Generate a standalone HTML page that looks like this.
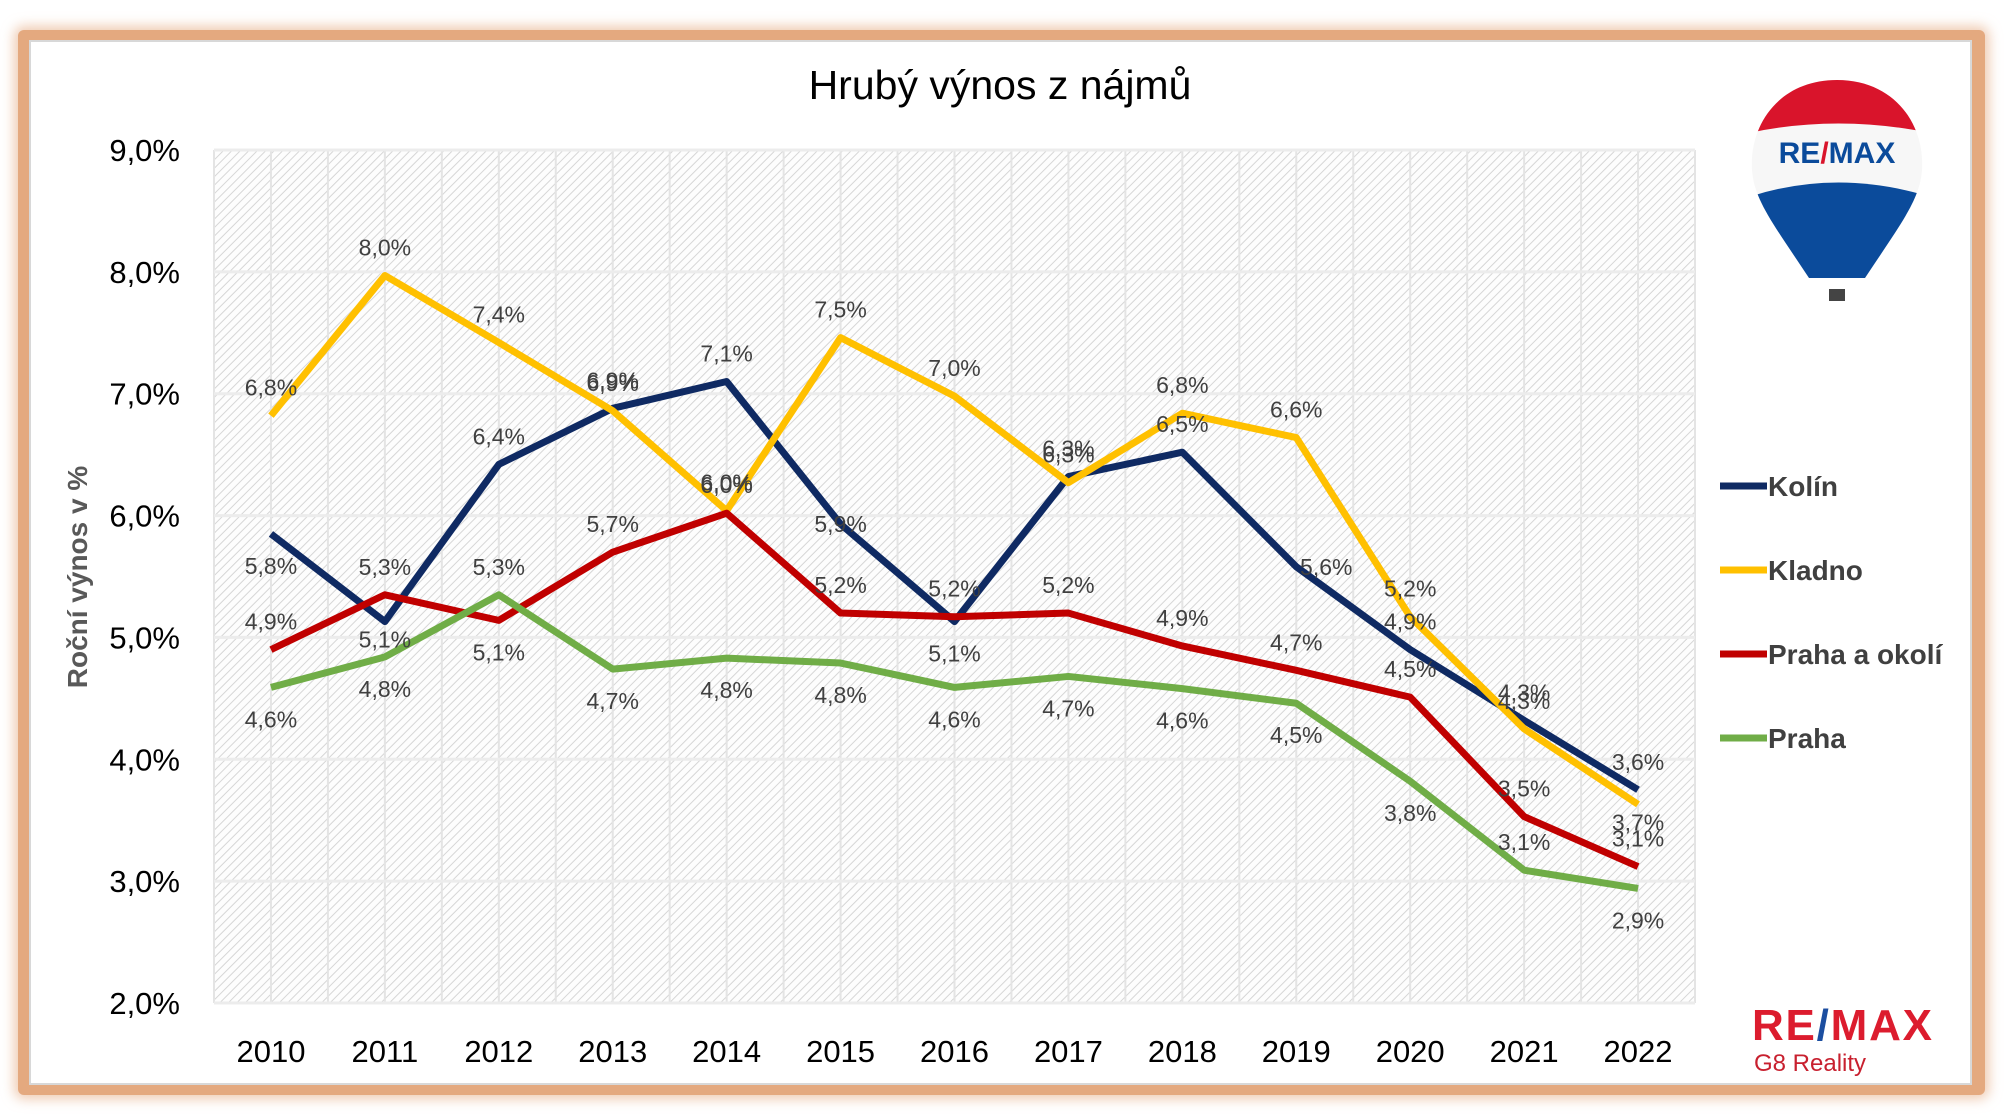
<!DOCTYPE html>
<html><head><meta charset="utf-8">
<style>
html,body{margin:0;padding:0;background:#fff;}
body{width:2010px;height:1114px;position:relative;overflow:hidden;font-family:"Liberation Sans",sans-serif;}
</style></head>
<body>
<div style="position:absolute;left:18px;top:30px;width:1967px;height:1065px;background:#e4a97f;box-shadow:0 0 12px 4px rgba(228,169,127,0.6);border-radius:6px;"></div>
<div style="position:absolute;left:29px;top:40px;width:1943px;height:1045px;background:#fff;border:2px solid #d8d8d8;box-sizing:border-box;"></div>
<svg id="chart" width="2010" height="1114" style="position:absolute;left:0;top:0">
<defs>
<pattern id="hatch" width="6" height="6" patternUnits="userSpaceOnUse" patternTransform="rotate(45)">
<rect width="6" height="6" fill="#fdfdfd"/><line x1="0" y1="0" x2="0" y2="6" stroke="#d6d6d6" stroke-width="2"/>
</pattern>
<clipPath id="balloonClip"><path d="M1837,80 C1895,80 1925,125 1922,170 C1920,200 1900,225 1865,278 L1809,278 C1774,225 1754,200 1752,170 C1749,125 1779,80 1837,80Z"/></clipPath>
</defs>
<text x="1000" y="99" text-anchor="middle" font-size="41" fill="#000">Hrubý výnos z nájmů</text>
<text transform="translate(87,577) rotate(-90)" text-anchor="middle" font-size="28" font-weight="bold" fill="#595959">Roční výnos v %</text>
<g id="plot"></g>
<g id="legend"></g>
<g>
<g clip-path="url(#balloonClip)">
<rect x="1740" y="70" width="200" height="220" fill="#f7f7f7"/>
<path d="M1740,70 L1940,70 L1940,135 Q1837,112 1740,135Z" fill="#d9142b"/>
<path d="M1740,200 Q1837,165 1940,200 L1940,290 L1740,290Z" fill="#0b4b9b"/>
</g>
<rect x="1829" y="289" width="16" height="12" fill="#444"/>
<text x="1837" y="163" text-anchor="middle" font-size="30" font-weight="bold" fill="#0b4b9b">RE<tspan fill="#d9142b">/</tspan>MAX</text>
</g>
<g>
<text x="1752" y="1040" font-size="44" font-weight="bold" fill="#dc1c2e" textLength="180">RE<tspan fill="#1c4ea0">/</tspan>MAX</text>
<text x="1754" y="1071" font-size="24" fill="#c8202f">G8 Reality</text>
</g>
</svg>
<script>
const categories=["2010","2011","2012","2013","2014","2015","2016","2017","2018","2019","2020","2021","2022"];
const yTicks=[2,3,4,5,6,7,8,9];
const seriesNames=["Kolín","Kladno","Praha a okolí","Praha"];
const kolin=[5.85,5.13,6.42,6.88,7.1,5.93,5.13,6.32,6.52,5.58,4.9,4.32,3.75];
const kladno=[6.82,7.97,7.42,6.86,6.04,7.46,6.98,6.27,6.84,6.64,5.17,4.25,3.63];
const prahaOkoli=[4.9,5.35,5.14,5.7,6.02,5.2,5.17,5.2,4.93,4.73,4.51,3.53,3.12];
const praha=[4.59,4.84,5.35,4.74,4.83,4.79,4.59,4.68,4.58,4.46,3.82,3.09,2.94];
const kolinLabels=["5,8%","5,1%","6,4%","6,9%","7,1%","5,9%","5,1%","6,3%","6,5%","5,6%","4,9%","4,3%","3,6%"];
const kladnoLabels=["6,8%","8,0%","7,4%","6,9%","6,0%","7,5%","7,0%","6,3%","6,8%","6,6%","5,2%","4,3%","3,7%"];
const prahaOkoliLabels=["4,9%","5,3%","5,1%","5,7%","6,0%","5,2%","5,2%","5,2%","4,9%","4,7%","4,5%","3,5%","3,1%"];
const prahaLabels=["4,6%","4,8%","5,3%","4,7%","4,8%","4,8%","4,6%","4,7%","4,6%","4,5%","3,8%","3,1%","2,9%"];
const kolinLabelPos=["b","m","a","a","a","c","b","a","a","r","a","a","a"];
const kladnoLabelPos=["a","a","a","a","a","a","a","a","a","a","a","a","m"];
const prahaOkoliLabelPos=["a","a","b","a","a","a","a","a","a","a","a","a","a"];
const prahaLabelPos=["b","b","a","b","b","b","b","b","b","b","b","a","b"];
const colors=["#0f2a63","#ffc000","#c00000","#70ad47"];
const allSeries=[kolin,kladno,prahaOkoli,praha];
const allLabels=[kolinLabels,kladnoLabels,prahaOkoliLabels,prahaLabels];
const allPos=[kolinLabelPos,kladnoLabelPos,prahaOkoliLabelPos,prahaLabelPos];
const NS="http://www.w3.org/2000/svg";
const L=214,R=1695,T=150,B=1003;
const step=(R-L)/categories.length;
function xS(i){return L+step*(i+0.5);}
function yS(v){return B-(v-2)/(9-2)*(B-T);}
function mk(tag,attrs,parent){const e=document.createElementNS(NS,tag);for(const k in attrs)e.setAttribute(k,attrs[k]);parent.appendChild(e);return e;}
const plot=document.getElementById('plot');
const bg=mk('rect',{x:L,y:T,width:R-L,height:B-T,fill:'url(#hatch)'},plot);


for(let i=0;i<=categories.length*2;i++){
  const x=L+step/2*i;
  const g=mk('line',{x1:x,x2:x,y1:T,y2:B,stroke:'#e4e4e4','stroke-width':2},plot);
  
  
}
yTicks.forEach(t=>{
  const y=yS(t);
  const g=mk('line',{x1:L,x2:R,y1:y,y2:y,stroke:'#ececec','stroke-width':3},plot);
  
  
  const tx=mk('text',{x:180,y:y+11,'text-anchor':'end','font-size':31,fill:'#000'},plot);
  tx.textContent=t.toFixed(1).replace('.',',')+'%';
  
  
});
categories.forEach((c,i)=>{
  const tx=mk('text',{x:xS(i),y:1062,'text-anchor':'middle','font-size':31,fill:'#000'},plot);
  tx.textContent=c;
  
  
});
allSeries.forEach((s,si)=>{
  const pts=s.map((v,i)=>xS(i)+','+yS(v)).join(' ');
  const pl=mk('polyline',{points:pts,fill:'none',stroke:colors[si],'stroke-width':7,'stroke-linejoin':'round'},plot);
  
  
});
allSeries.forEach((s,si)=>{
  s.forEach((v,i)=>{
    const p=allPos[si][i];
    let x=xS(i),y=yS(v);
    if(p==='a')y-=20;else if(p==='b')y+=40;else if(p==='m')y+=26;else if(p==='r'){x+=30;y+=8;}else y+=8;
    const tx=mk('text',{x:x,y:y,'text-anchor':'middle','font-size':23,fill:'#404040'},plot);
    tx.textContent=allLabels[si][i];
    
    
  });
});
const lg=document.getElementById('legend');
seriesNames.forEach((n,i)=>{
  const y=486+i*84;
  const ln=mk('line',{x1:1720,x2:1767,y1:y,y2:y,stroke:colors[i],'stroke-width':7},lg);
  
  
  const tx=mk('text',{x:1768,y:y+10,'font-size':28,'font-weight':'bold',fill:'#404040'},lg);
  tx.textContent=n;
  
  
});
</script>
</body></html>
